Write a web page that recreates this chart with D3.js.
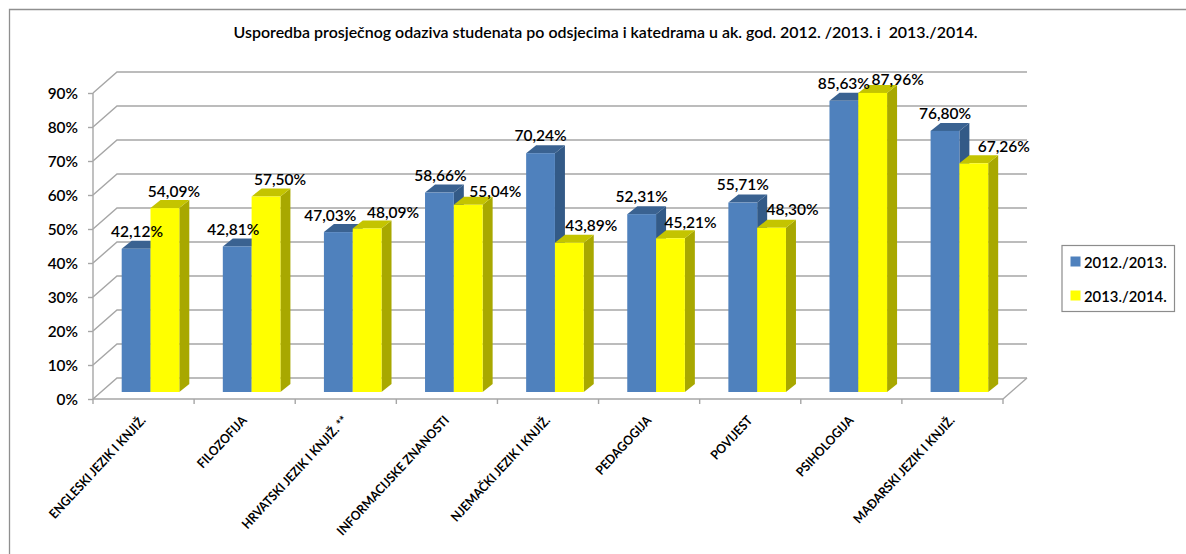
<!DOCTYPE html>
<html><head><meta charset="utf-8">
<style>html,body{margin:0;padding:0;background:#fff}svg{display:block}text{font-family:Lato,"Open Sans",sans-serif;font-weight:700;fill:#000}</style>
<script src="https://cdn.jsdelivr.net/npm/d3@7/dist/d3.min.js"></script></head><body>
<script>
const categories=["ENGLESKI JEZIK I KNJIŽ.","FILOZOFIJA","HRVATSKI JEZIK I KNJIŽ. **","INFORMACIJSKE ZNANOSTI","NJEMAČKI JEZIK I KNJIŽ.","PEDAGOGIJA","POVIJEST","PSIHOLOGIJA","MAĐARSKI JEZIK I KNJIŽ."];
const seriesNames=["2012./2013.","2013./2014."];
const values2012=[42.12,42.81,47.03,58.66,70.24,52.31,55.71,85.63,76.80];
const values2013=[54.09,57.50,48.09,55.04,43.89,45.21,48.30,87.96,67.26];
const yTicks=[0,10,20,30,40,50,60,70,80,90];
const title="Usporedba prosječnog odaziva studenata po odsjecima i katedrama u ak. god. 2012. /2013. i  2013./2014.";

// manual label placement, as in the reference (offsets from the bar's centre / top)
const labelDx=[[1,-4,-8,1,0,0,0,0,0],[9,14,26,27,22,20,21,25,30]];
const labelBaseline=[[237,235,221,181,141,202,190,89,119],[197,185,218,197,231,228,215,85,152]];

const W=1186,H=554;
const svg=d3.select("body").append("svg").attr("width",W).attr("height",H);
const x=d3.scaleBand().domain(categories).range([93,1003]);
const y=d3.scaleLinear().domain([0,90]).range([399,93]);
const depth={dx:24,dy:-21}, barD={dx:10,dy:-8};
const barLift=-7;
const sub=d3.scaleBand().domain([0,1]).range([28.7,28.7+57.6]);
const fmt=v=>v.toFixed(2).replace(".",",")+"%";
const grid="#a6a6a6";

svg.append("text").attr("x",605.5).attr("y",38).attr("text-anchor","middle").attr("font-size",15.95).style("white-space","pre").style("font-weight",600).text(title);

// wall gridlines and floor
const g=svg.append("g").attr("fill","none").attr("stroke",grid).attr("stroke-width",1.4);
yTicks.forEach(t=>{
  g.append("path").attr("d",d3.line()([[93,y(t)],[93+depth.dx,y(t)+depth.dy],[1003+depth.dx,y(t)+depth.dy]]));
});
g.append("path").attr("d",d3.line()([[1003,399],[1027,378]]));
// axes
const yAxis=d3.axisLeft(y).tickValues(yTicks).tickSize(5).tickFormat(d=>d+"%");
const ya=svg.append("g").attr("transform","translate(93,0)").call(yAxis);
ya.selectAll("line,path").attr("stroke",grid).attr("stroke-width",1.4);
ya.select(".domain").attr("d","M0,93V399");
ya.selectAll("text").attr("font-size",15.4).attr("x",-15).attr("dy","0.36em").style("font-family","Lato").style("font-weight",600);
const xAxis=d3.axisBottom(x).tickSize(5).tickFormat("");
const xa=svg.append("g").attr("transform","translate(0,399)").call(xAxis);
xa.select(".domain").attr("d","M93,0H1003");
xa.selectAll("line,path").attr("stroke",grid).attr("stroke-width",1.4);
xa.selectAll(".tick line").attr("transform",function(d){return `translate(${-x.bandwidth()/2},0)`});
xa.append("line").attr("x1",1003).attr("x2",1003).attr("y1",0).attr("y2",5).attr("stroke",grid).attr("stroke-width",1.4);

// bars
const colors=[{f:"#4f81bd",t:"#3a6291",s:"#335a87"},{f:"#ffff00",t:"#c4c400",s:"#a8a800"}];
const poly=p=>d3.line()(p)+"Z";
categories.forEach((c,i)=>{
  [values2012,values2013].forEach((vals,k)=>{
    const v=vals[i],x0=x(c)+sub(k),w=sub.bandwidth(),yb=y(0)+barLift,yt=y(v)+barLift;
    const b=svg.append("g");
    b.append("path").attr("fill",colors[k].s).attr("d",poly([[x0+w,yb],[x0+w+barD.dx,yb+barD.dy],[x0+w+barD.dx,yt+barD.dy],[x0+w,yt]]));
    b.append("path").attr("fill",colors[k].t).attr("d",poly([[x0,yt],[x0+barD.dx,yt+barD.dy],[x0+w+barD.dx,yt+barD.dy],[x0+w,yt]]));
    b.append("rect").attr("x",x0).attr("y",yt).attr("width",w).attr("height",yb-yt).attr("fill",colors[k].f);
  });
});
// data labels
categories.forEach((c,i)=>{
  [values2012,values2013].forEach((vals,k)=>{
    const x0=x(c)+sub(k)+sub.bandwidth()/2+labelDx[k][i];
    svg.append("text").attr("transform",`translate(${x0},${labelBaseline[k][i]}) scale(0.97,1)`).attr("text-anchor","middle").attr("font-size",16).style("font-weight",600).text(fmt(vals[i]));
  });
});
// category labels
categories.forEach(c=>{
  const cx=x(c)+x.bandwidth()/2+3;
  svg.append("text").attr("transform",`translate(${cx},421) rotate(-47) scale(0.93,1)`).attr("text-anchor","end").attr("font-size",12.8).text(c);
});
// legend
const lg=svg.append("g");
lg.append("rect").attr("x",1062).attr("y",245.5).attr("width",112.5).attr("height",66).attr("fill","#fff").attr("stroke","#8c8c8c").attr("stroke-width",1.2);
seriesNames.forEach((n,k)=>{
  const ly=261+k*34;
  lg.append("rect").attr("x",1070.5).attr("y",ly-4.5).attr("width",10).attr("height",10).attr("fill",colors[k].f);
  lg.append("text").attr("transform",`translate(1084,${ly+7}) scale(0.99,1)`).attr("font-size",15).style("font-weight",600).text(n);
});
// outer frame: only top and left edges are inside the picture
svg.append("path").attr("d",d3.line()([[9.5,H],[9.5,9.5],[W,9.5]])).attr("fill","none").attr("stroke","#8f8f8f").attr("stroke-width",1.3);
</script></body></html>
